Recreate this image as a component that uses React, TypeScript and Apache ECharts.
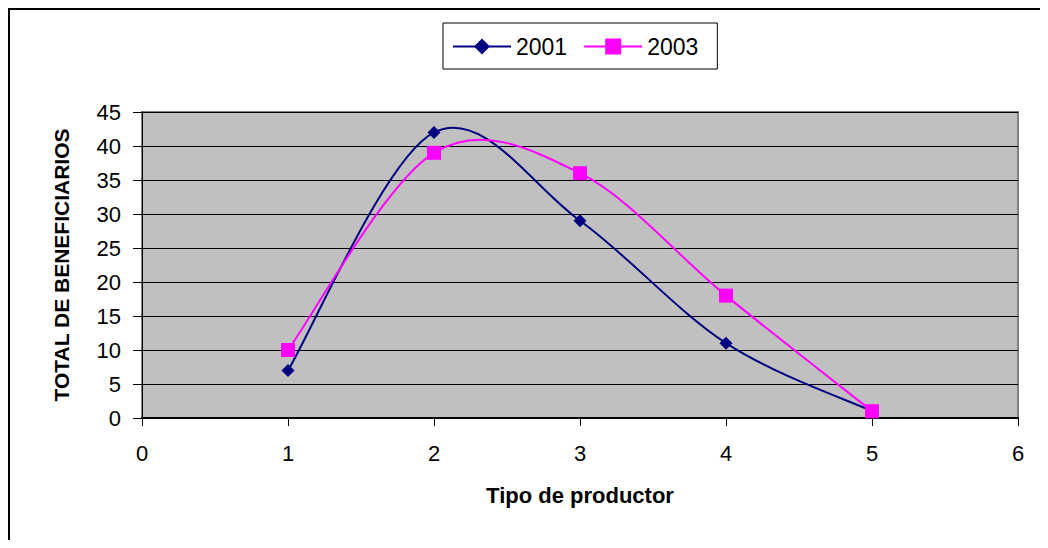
import React, { useEffect, useRef } from "react";
import * as echarts from "echarts";

const xValues = [1, 2, 3, 4, 5];
const series2001 = [7, 42, 29, 11, 1];
const series2003 = [10, 39, 36, 18, 1];
const seriesNames = ["2001", "2003"];
const seriesColors = ["#000080", "#ff00ff"];
const xTitle = "Tipo de productor";
const yTitle = "TOTAL DE BENEFICIARIOS";

function smoothPath(pts: number[][]): string {
  // Excel-like Catmull-Rom (1/6 tension) bezier through screen points
  let d = `M${pts[0][0]},${pts[0][1]}`;
  for (let i = 0; i < pts.length - 1; i++) {
    const p0 = pts[i - 1] || pts[i];
    const p1 = pts[i];
    const p2 = pts[i + 1];
    const p3 = pts[i + 2] || pts[i + 1];
    const c1x = p1[0] + (p2[0] - p0[0]) / 6;
    const c1y = p1[1] + (p2[1] - p0[1]) / 6;
    const c2x = p2[0] - (p3[0] - p1[0]) / 6;
    const c2y = p2[1] - (p3[1] - p1[1]) / 6;
    d += ` C${c1x},${c1y} ${c2x},${c2y} ${p2[0]},${p2[1]}`;
  }
  return d;
}

export default function App() {
  const ref = useRef<HTMLDivElement>(null);
  useEffect(() => {
    if (!ref.current) return;
    const chart = echarts.init(ref.current, null, { renderer: "svg" });
    const font = "'Liberation Sans', Arial, sans-serif";
    const allSeries = [series2001, series2003];
    const curveSeries = allSeries.map((vals, si) => ({
      name: seriesNames[si] + "-curve",
      type: "custom",
      silent: true,
      z: 2,
      data: [0],
      renderItem: (_params: any, api: any) => {
        const pts = xValues.map((x, i) => api.coord([x, vals[i]]));
        return {
          type: "path",
          shape: { pathData: smoothPath(pts) },
          style: { fill: "none", stroke: seriesColors[si], lineWidth: 2 },
        };
      },
    }));
    const markerSeries = allSeries.map((vals, si) => ({
      name: seriesNames[si],
      type: "line",
      z: 3,
      data: xValues.map((x, i) => [x, vals[i]]),
      symbol: si === 0 ? "diamond" : "rect",
      symbolSize: si === 0 ? 13 : 14,
      itemStyle: { color: seriesColors[si] },
      lineStyle: { color: seriesColors[si], width: 2, opacity: 0 },
    }));
    chart.setOption({
      animation: false,
      backgroundColor: "#ffffff",
      textStyle: { fontFamily: font },
      legend: {
        top: 15,
        left: 435,
        itemGap: 16,
        itemWidth: 58,
        itemHeight: 20,
        padding: [12, 19, 11, 9],
        borderColor: "#000",
        borderWidth: 1,
        borderRadius: 0,
        textStyle: { fontSize: 23, color: "#000", fontFamily: font },
        data: seriesNames.map((n) => ({ name: n, lineStyle: { opacity: 1, width: 2 } })),
      },
      grid: { left: 134, top: 104, right: 22, bottom: 122, show: true, backgroundColor: "#c0c0c0", borderColor: "#808080", borderWidth: 2 },
      xAxis: {
        type: "value",
        min: 0,
        max: 6,
        interval: 1,
        name: xTitle,
        nameLocation: "middle",
        nameGap: 66,
        nameTextStyle: { fontSize: 22, fontWeight: "bold", color: "#000", fontFamily: font },
        axisLine: { show: true, onZero: false, lineStyle: { color: "#000", width: 2 } },
        axisTick: { show: true, length: 8, lineStyle: { color: "#000", width: 1 } },
        axisLabel: { fontSize: 22, color: "#000", margin: 24, fontFamily: font },
        splitLine: { show: false },
      },
      yAxis: {
        type: "value",
        min: 0,
        max: 45,
        interval: 5,
        name: yTitle,
        nameLocation: "middle",
        nameGap: 70,
        nameTextStyle: { fontSize: 21, fontWeight: "bold", color: "#000", fontFamily: font },
        axisLine: { show: true, lineStyle: { color: "#000", width: 1 } },
        axisTick: { show: true, length: 9, lineStyle: { color: "#000" } },
        axisLabel: { fontSize: 22, color: "#000", margin: 21, fontFamily: font },
        splitLine: { show: true, lineStyle: { color: "#000", width: 1 } },
      },
      series: [...curveSeries, ...markerSeries],
      graphic: [
        { type: "line", shape: { x1: 1, y1: 0, x2: 1, y2: 532 }, style: { stroke: "#000", lineWidth: 2 } },
        { type: "line", shape: { x1: 0, y1: 1, x2: 1040, y2: 1 }, style: { stroke: "#000", lineWidth: 2 } },
      ],
    });
    return () => chart.dispose();
  }, []);
  return <div ref={ref} style={{ width: 1032, height: 532 }} />;
}
